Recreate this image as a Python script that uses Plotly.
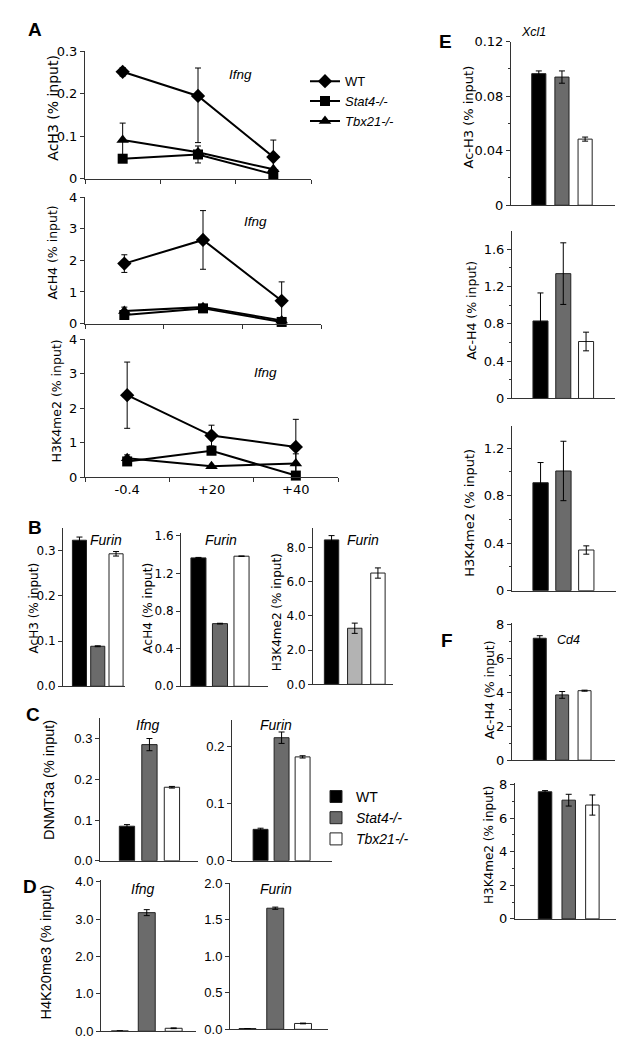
import plotly.graph_objects as go

W, H = 624, 1050

# ---------------- data ----------------
timepoints = ["-0.4", "+20", "+40"]
genotypes = ["WT", "Stat4-/-", "Tbx21-/-"]
legend_names = ["WT", "<i>Stat4-/-</i>", "<i>Tbx21-/-</i>"]

# Panel A (Ifng, time course)
a_ach3_wt = [0.252, 0.195, 0.051]
a_ach3_wt_err_plus = [0.010, 0.066, 0.040]
a_ach3_wt_err_minus = [0.010, 0.110, 0.040]
a_ach3_stat4 = [0.047, 0.057, 0.010]
a_ach3_stat4_err = [0.0, 0.020, 0.0]
a_ach3_tbx21 = [0.091, 0.062, 0.022]
a_ach3_tbx21_err = [0.040, 0.0, 0.0]

a_ach4_wt = [1.90, 2.65, 0.72]
a_ach4_wt_err = [0.28, 0.93, 0.60]
a_ach4_stat4 = [0.27, 0.48, 0.05]
a_ach4_stat4_err = [0.08, 0.06, 0.0]
a_ach4_tbx21 = [0.40, 0.52, 0.10]
a_ach4_tbx21_err = [0.12, 0.05, 0.0]

a_h3k4_wt = [2.38, 1.21, 0.88]
a_h3k4_wt_err = [0.96, 0.30, 0.80]
a_h3k4_stat4 = [0.46, 0.77, 0.05]
a_h3k4_stat4_err = [0.05, 0.10, 0.0]
a_h3k4_tbx21 = [0.55, 0.32, 0.40]
a_h3k4_tbx21_err = [0.10, 0.0, 0.28]

# Bar panels: values per genotype [WT, Stat4-/-, Tbx21-/-]
b_ach3 = [0.323, 0.0885, 0.293]
b_ach3_err = [0.007, 0.001, 0.005]
b_ach4 = [1.365, 0.666, 1.383]
b_ach4_err = [0.005, 0.004, 0.002]
b_h3k4 = [8.45, 3.28, 6.51]
b_h3k4_err = [0.25, 0.30, 0.30]

c_ifng = [0.085, 0.286, 0.181]
c_ifng_err = [0.004, 0.015, 0.002]
c_furin = [0.055, 0.2156, 0.182]
c_furin_err = [0.002, 0.010, 0.002]

d_ifng = [0.01, 3.17, 0.08]
d_ifng_err = [0.0, 0.08, 0.01]
d_furin = [0.01, 1.66, 0.08]
d_furin_err = [0.0, 0.015, 0.005]

e_ach3 = [0.0965, 0.094, 0.0485]
e_ach3_err = [0.002, 0.0045, 0.0015]
e_ach4 = [0.83, 1.337, 0.61]
e_ach4_err = [0.30, 0.33, 0.10]
e_h3k4 = [0.908, 1.007, 0.342]
e_h3k4_err = [0.17, 0.25, 0.035]

f_ach4 = [7.21, 3.86, 4.11]
f_ach4_err = [0.15, 0.20, 0.03]
f_h3k4 = [7.57, 7.07, 6.78]
f_h3k4_err = [0.07, 0.35, 0.60]

# ---------------- styling ----------------
DEJAVU = "DejaVu Sans"
ARIAL = "Liberation Sans, Arial"
AXC = "#333333"
bar_colors = ["#000000", "#6b6b6b", "#ffffff"]
bar_colors_light = ["#000000", "#b3b3b3", "#ffffff"]

fig = go.Figure()
layout = {}
annotations = []


def px_x(x):
    return x / W


def px_y(y):
    return 1 - y / H


def names(i):
    if i == 1:
        return "xaxis", "yaxis", "x", "y"
    return f"xaxis{i}", f"yaxis{i}", f"x{i}", f"y{i}"


def text_ann(x, y, text, size, family, angle=0, bold=False, italic=False, xanchor="center"):
    t = text
    if italic:
        t = f"<i>{t}</i>"
    if bold:
        t = f"<b>{t}</b>"
    annotations.append(dict(
        x=px_x(x), y=px_y(y), xref="paper", yref="paper", text=t, showarrow=False,
        textangle=angle, xanchor=xanchor, yanchor="middle",
        font=dict(family=family, size=size, color="black")))


def setup_axes(i, x0, x1, ytop, ybot, yrange, xrange, tickvals, ticktext, font, fsize,
               xcats, xlabels=False, boundary_ticks=False, minor=False):
    xa, ya, xr, yr = names(i)
    layout[xa] = dict(
        domain=[px_x(x0), px_x(x1)], anchor=yr, type="category", range=xrange,
        categoryorder="array", categoryarray=xcats,
        showline=True, linecolor=AXC, linewidth=1, showgrid=False, zeroline=False,
        showticklabels=xlabels, ticks="outside" if boundary_ticks else "",
        tickson="boundaries" if boundary_ticks else "labels", ticklen=4, tickcolor=AXC,
        tickfont=dict(family=font, size=fsize, color="black"), fixedrange=True)
    ydict = dict(
        domain=[px_y(ybot), px_y(ytop)], anchor=xr, range=yrange,
        showline=True, linecolor=AXC, linewidth=1, showgrid=False, zeroline=False,
        ticks="outside", ticklen=4, tickcolor=AXC, tickvals=tickvals, ticktext=ticktext,
        tickfont=dict(family=font, size=fsize, color="black"), fixedrange=True)
    if minor:
        ydict["minor"] = dict(ticks="outside", ticklen=2, tickcolor=AXC,
                              dtick=(tickvals[1] - tickvals[0]) / 2)
    layout[ya] = ydict
    return xr, yr


# ---------------- panel A (line charts) ----------------
sym = ["diamond", "square", "triangle-up"]
msize = [11, 10, 11]


def line_panel(i, x0, x1, ytop, ybot, ymax, tickvals, ticktext, series, errs, show_legend, xlabels):
    xr, yr = setup_axes(i, x0, x1, ytop, ybot, [0, ymax], [-0.5, 2.5], tickvals, ticktext,
                        DEJAVU, 13, timepoints, xlabels=xlabels, boundary_ticks=True)
    for k in range(3):
        e = errs[k]
        if isinstance(e, tuple):
            err = dict(type="data", array=e[0], arrayminus=e[1], symmetric=False,
                       color="black", thickness=1, width=3)
        else:
            err = dict(type="data", array=e, color="black", thickness=1, width=3)
        fig.add_trace(go.Scatter(
            x=timepoints, y=series[k], mode="lines+markers", name=legend_names[k],
            legendgroup="A" + genotypes[k], showlegend=show_legend, legend="legend",
            line=dict(color="black", width=2),
            marker=dict(symbol=sym[k], size=msize[k], color="black"),
            error_y=err, xaxis=xr, yaxis=yr, cliponaxis=False))


line_panel(1, 77, 303, 37, 166, 0.3, [0, 0.1, 0.2, 0.3], ["0", "0.1", "0.2", "0.3"],
           [a_ach3_wt, a_ach3_stat4, a_ach3_tbx21],
           [(a_ach3_wt_err_plus, a_ach3_wt_err_minus), a_ach3_stat4_err, a_ach3_tbx21_err],
           True, False)
line_panel(2, 77, 313, 185, 313, 4, [0, 1, 2, 3, 4], ["0", "1", "2", "3", "4"],
           [a_ach4_wt, a_ach4_stat4, a_ach4_tbx21],
           [a_ach4_wt_err, a_ach4_stat4_err, a_ach4_tbx21_err], False, False)
line_panel(3, 77, 330, 329, 469, 4, [0, 1, 2, 3, 4], ["0", "1", "2", "3", "4"],
           [a_h3k4_wt, a_h3k4_stat4, a_h3k4_tbx21],
           [a_h3k4_wt_err, a_h3k4_stat4_err, a_h3k4_tbx21_err], False, True)


# ---------------- bar panels ----------------
def bar_panel(i, x0, x1, ytop, ybot, ymax, xrange, width, tickvals, ticktext, font, fsize,
              vals, errs, colors=bar_colors, legend=False, minor=False):
    xr, yr = setup_axes(i, x0, x1, ytop, ybot, [0, ymax], xrange, tickvals, ticktext,
                        font, fsize, genotypes, minor=minor)
    for k in range(3):
        fig.add_trace(go.Bar(
            x=[genotypes[k]], y=[vals[k]], width=[width], name=legend_names[k],
            legendgroup="C" + genotypes[k], showlegend=legend, legend="legend2",
            marker=dict(color=colors[k], line=dict(color="#222222", width=1)),
            error_y=dict(type="data", array=[errs[k]], color="black", thickness=1, width=3),
            xaxis=xr, yaxis=yr))


# B
bar_panel(4, 55, 117, 520, 681, 0.351, [-0.9, 2.49], 0.77, [0, 0.1, 0.2, 0.3],
          ["0.0", "0.1", "0.2", "0.3"], DEJAVU, 12, b_ach3, b_ach3_err)
bar_panel(5, 173, 260, 525, 681, 1.635, [-0.81, 3.23], 0.70, [0, 0.4, 0.8, 1.2, 1.6],
          ["0.0", "0.4", "0.8", "1.2", "1.6"], DEJAVU, 12, b_ach4, b_ach4_err)
bar_panel(6, 305, 385, 520, 679, 9.17, [-0.80, 2.65], 0.62, [0, 2, 4, 6, 8],
          ["0.0", "2.0", "4.0", "6.0", "8.0"], DEJAVU, 12, b_h3k4, b_h3k4_err,
          colors=bar_colors_light)
# C
bar_panel(7, 92, 190, 713, 858, 0.352, [-1.2, 3.16], 0.68, [0, 0.1, 0.2, 0.3],
          ["0.0", "0.1", "0.2", "0.3"], ARIAL, 13, c_ifng, c_ifng_err, legend=True)
bar_panel(8, 224, 324, 715, 858, 0.247, [-1.36, 3.40], 0.71, [0, 0.1, 0.2],
          ["0.0", "0.1", "0.2"], ARIAL, 13, c_furin, c_furin_err)
# D
bar_panel(9, 93, 188, 878, 1031, 4.03, [-0.70, 2.83], 0.63, [0, 1, 2, 3, 4],
          ["0.0", "1.0", "2.0", "3.0", "4.0"], ARIAL, 13, d_ifng, d_ifng_err)
bar_panel(10, 222, 320, 881, 1029, 2.0, [-0.63, 2.90], 0.61, [0, 0.5, 1.0, 1.5, 2.0],
          ["0.0", "0.5", "1.0", "1.5", "2.0"], ARIAL, 13, d_furin, d_furin_err)
# E
bar_panel(11, 503, 607, 27, 193, 0.12, [-1.2, 3.29], 0.61, [0, 0.04, 0.08, 0.12],
          ["0", "0.04", "0.08", "0.12"], DEJAVU, 13, e_ach3, e_ach3_err, minor=True)
bar_panel(12, 504, 607, 219, 389, 1.795, [-1.25, 3.27], 0.66, [0, 0.4, 0.8, 1.2, 1.6],
          ["0", "0.4", "0.8", "1.2", "1.6"], DEJAVU, 13, e_ach4, e_ach4_err, minor=True)
bar_panel(13, 504, 608, 417, 584, 1.385, [-1.25, 3.30], 0.67, [0, 0.4, 0.8, 1.2],
          ["0", "0.4", "0.8", "1.2"], DEJAVU, 13, e_h3k4, e_h3k4_err, minor=True)
# F
bar_panel(14, 504, 607, 617, 756, 8.1, [-1.24, 3.36], 0.58, [0, 2, 4, 6, 8],
          ["0", "2", "4", "6", "8"], DEJAVU, 13, f_ach4, f_ach4_err, minor=True)
bar_panel(15, 507, 613, 779, 917, 8.1, [-1.27, 3.21], 0.57, [0, 2, 4, 6, 8],
          ["0", "2", "4", "6", "8"], DEJAVU, 13, f_h3k4, f_h3k4_err, minor=True)

# ---------------- text ----------------
# panel letters
for (x, y, t) in [(27, 15, "A"), (27, 520, "B"), (25, 710, "C"), (22, 884, "D"),
                  (437, 27, "E"), (439, 635, "F")]:
    text_ann(x, y, t, 19, ARIAL, bold=True)

# y-axis titles
for (x, y, t, fam, sz) in [
    (45, 94, "AcH3 (% input)", DEJAVU, 14),
    (45, 241, "AcH4 (% input)", DEJAVU, 12.5),
    (48, 392, "H3K4me2 (% input)", DEJAVU, 12.5),
    (26, 602, "AcH3 (% input)", DEJAVU, 12),
    (140, 602, "AcH4 (% input)", DEJAVU, 12),
    (269, 606, "H3K4me2 (% input)", DEJAVU, 12),
    (41, 776, "DNMT3a (% input)", ARIAL, 14.5),
    (38, 951, "H4K20me3 (% input)", ARIAL, 14.5),
    (461, 104, "Ac-H3 (% input)", DEJAVU, 13),
    (464, 300, "Ac-H4 (% input)", DEJAVU, 12.5),
    (462, 505, "H3K4me2 (% input)", DEJAVU, 13),
    (481, 685, "Ac-H4 (% input)", DEJAVU, 12.5),
    (481, 842, "H3K4me2 (% input)", DEJAVU, 12),
]:
    text_ann(x, y, t, sz, fam, angle=-90)

# gene labels
for (x, y, t, sz) in [(232, 60, "Ifng", 13.5), (247, 210, "Ifng", 13.5), (257, 363, "Ifng", 13.5),
                      (98, 533, "Furin", 14), (213, 533, "Furin", 14), (355, 533, "Furin", 14),
                      (140, 720, "Ifng", 14), (268, 720, "Furin", 14),
                      (135, 887, "Ifng", 14), (268, 887, "Furin", 14),
                      (525, 17, "Xcl1", 12.5), (560, 634, "Cd4", 12.5)]:
    text_ann(x, y, t, sz, ARIAL, italic=True)

fig.update_layout(
    width=W, height=H, margin=dict(l=0, r=0, t=0, b=0),
    paper_bgcolor="white", plot_bgcolor="white",
    barmode="overlay", annotations=annotations,
    legend=dict(x=px_x(297), y=px_y(52), xanchor="left", yanchor="top",
                bgcolor="rgba(0,0,0,0)", font=dict(family=ARIAL, size=13, color="black"),
                itemwidth=30, tracegroupgap=0),
    legend2=dict(x=px_x(308), y=px_y(777), xanchor="left", yanchor="top",
                 bgcolor="rgba(0,0,0,0)", font=dict(family=ARIAL, size=14, color="black"),
                 itemwidth=30, tracegroupgap=0),
    **layout,
)

fig.write_html("out.html")
